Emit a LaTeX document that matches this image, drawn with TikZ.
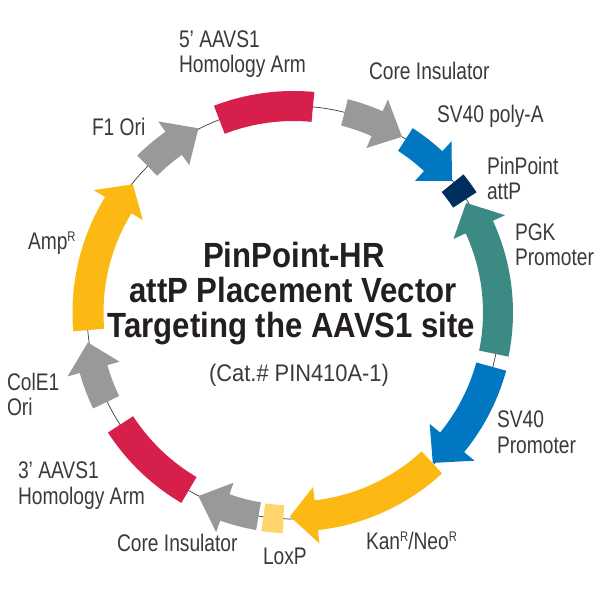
\documentclass[tikz,border=0pt]{standalone}
\usepackage{fontspec}
\setmainfont{Liberation Sans}[FakeStretch=0.8]
\newfontfamily\ttlfont{Liberation Sans}[FakeStretch=0.89]
\newfontfamily\catfont{Liberation Sans}[FakeStretch=0.91]
\definecolor{cred}{HTML}{D71F4B}
\definecolor{cgray}{HTML}{999999}
\definecolor{cblue}{HTML}{0077C0}
\definecolor{cnavy}{HTML}{002F5F}
\definecolor{cteal}{HTML}{3C8A84}
\definecolor{cyel}{HTML}{FDB913}
\definecolor{clight}{HTML}{FFD56E}
\definecolor{ctext}{HTML}{3A3A3C}
\definecolor{ctitle}{HTML}{231F20}
\newcommand{\supR}{\raisebox{0.34em}{\fontsize{14}{14}\selectfont R}}
% #1 colour, #2 mid radius, #3 half width, #4 start angle, #5 end angle
\newcommand{\ringseg}[5]{%
  \pgfmathsetmacro{\ro}{#2+#3}\pgfmathsetmacro{\ri}{#2-#3}%
  \fill[#1] (#4:\ro pt) arc[start angle=#4,end angle=#5,radius=\ro pt]
    -- (#5:\ri pt) arc[start angle=#5,end angle=#4,radius=\ri pt] -- cycle;}
% #1 colour, #2 mid radius, #3 shaft half width, #4 barb half width, #5 tail angle, #6 barb angle, #7 tip angle
\newcommand{\ringarrow}[7]{%
  \pgfmathsetmacro{\ro}{#2+#3}\pgfmathsetmacro{\ri}{#2-#3}%
  \pgfmathsetmacro{\bo}{#2+#4}\pgfmathsetmacro{\bi}{#2-#4}%
  \fill[#1] (#5:\ro pt) arc[start angle=#5,end angle=#6,radius=\ro pt]
    -- (#6:\bo pt) -- (#7:#2 pt) -- (#6:\bi pt) -- (#6:\ri pt)
    arc[start angle=#6,end angle=#5,radius=\ri pt] -- cycle;}
\tikzset{
  lab/.style={inner sep=0pt,outer sep=0pt,text=ctext,align=left,font=\fontsize{24}{25.5}\selectfont},
  ttl/.style={inner sep=0pt,outer sep=0pt,anchor=base,text=ctitle,font=\ttlfont\fontsize{35}{38}\selectfont\bfseries},
  ringline/.style={draw=ctext,line width=0.7pt}
}
\begin{document}
\begin{tikzpicture}[x=1pt,y=1pt]
\useasboundingbox (0,0) rectangle (600,600);
\begin{scope}[shift={(293.5,287.5)}]
\draw[ringline] (0,0) circle[radius=206.5pt];
\ringseg{cred}{206.5}{15}{111.05}{84.6}
\ringarrow{cgray}{206.5}{13.6}{26.6}{75.7}{66.1}{58.3}
\ringarrow{cblue}{206}{13.5}{27}{57.1}{47.3}{39.7}
\ringseg{cnavy}{205}{14}{39.1}{33.3}
\ringarrow{cteal}{204.5}{15}{28.4}{-11.6}{24.7}{32.4}
\ringarrow{cblue}{205}{15.5}{29}{-15.3}{-39.3}{-47.2}
\ringarrow{cyel}{204}{15}{28.4}{-47.3}{-83.6}{-91}
\ringseg{clight}{207}{14}{-98.4}{-92.8}
\ringarrow{cgray}{206.7}{14}{26.2}{-99.75}{-109.4}{-117.4}
\ringseg{cred}{206}{15}{-120.5}{-147.1}
\ringarrow{cgray}{207.8}{14.4}{27}{-154.4}{-164.2}{-171.7}
\ringarrow{cyel}{205.5}{15.5}{28.8}{184.9}{148.5}{141.4}
\ringarrow{cgray}{207.3}{14.2}{26.8}{134.9}{125.3}{117.3}
\end{scope}
\node[lab,anchor=west] (arm5) at (179,546) {5’ AAVS1\\Homology Arm};
\node[lab,anchor=west] (coretop) at (369,529) {Core Insulator};
\node[lab,anchor=west] (polya) at (437,484) {SV40 poly-A};
\node[lab,anchor=west] (attp) at (487,421.5) {PinPoint\\attP};
\node[lab,anchor=west] (pgk) at (515,355.5) {PGK\\Promoter};
\node[lab,anchor=west] (sv40) at (497,168) {SV40\\Promoter};
\node[lab,anchor=west] (kan) at (366,59) {Kan\supR/Neo\supR};
\node[lab,anchor=west] (lox) at (263,44) {LoxP};
\node[lab,anchor=west] (corebot) at (117,57) {Core Insulator};
\node[lab,anchor=west] (arm3) at (18,114.5) {3’ AAVS1\\Homology Arm};
\node[lab,anchor=west] (cole) at (7,205.5) {ColE1\\Ori};
\node[lab,anchor=west] (amp) at (28,357) {Amp\supR};
\node[lab,anchor=west] (f1) at (92,473) {F1 Ori};
\node[ttl] (t1) at (294,332) {PinPoint-HR};
\node[ttl] (t2) at (293,297.3) {attP Placement Vector};
\node[ttl] (t3) at (291.5,262.7) {Targeting the AAVS1 site};
\node[lab,anchor=base,font=\catfont\fontsize{24}{28}\selectfont] (cat) at (299,218.3) {(Cat.\# PIN410A-1)};
\end{tikzpicture}
\end{document}
